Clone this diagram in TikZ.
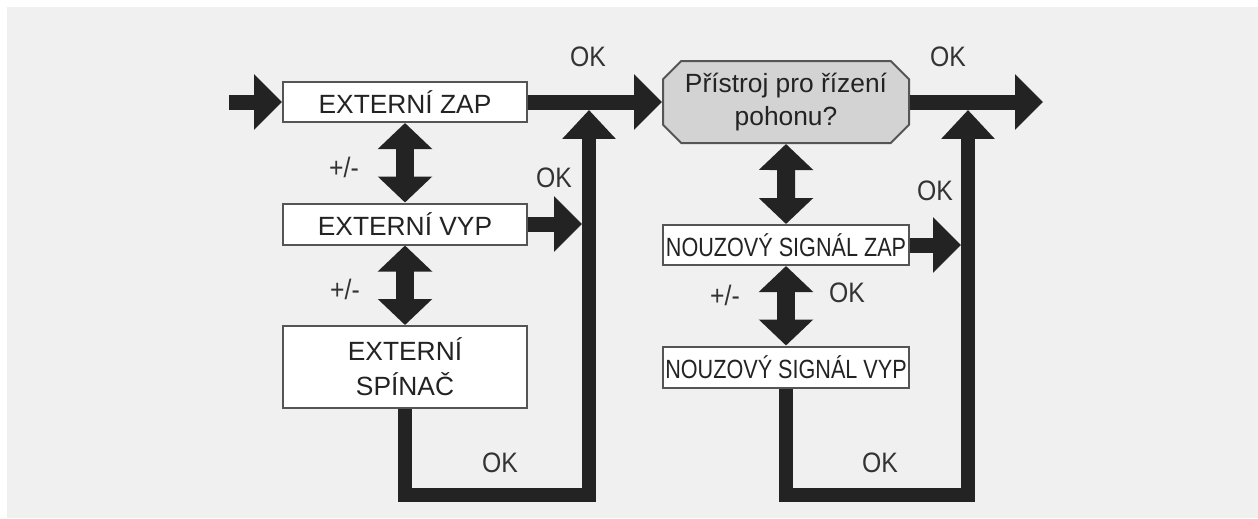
\documentclass[tikz,border=0pt]{standalone}
\usepackage{fontspec}
\setmainfont{Liberation Sans}
\newfontfamily\narrowfont[FakeStretch=0.82]{Liberation Sans}
\newfontfamily\okfont[FakeStretch=0.88]{Liberation Sans}
\usetikzlibrary{arrows.meta,shapes.misc}
\definecolor{bggrey}{HTML}{F0F0F0}
\definecolor{flowblack}{HTML}{232323}
\definecolor{boxgrey}{HTML}{D3D3D3}
\definecolor{rimgrey}{HTML}{555555}
\definecolor{okgrey}{HTML}{333333}
\def\px{0.02cm}
\tikzset{
	box/.style={draw=rimgrey, line width=2*\px, fill=white, inner sep=0pt, text=flowblack,
		minimum width=244*\px, align=center, font=\fontsize{15}{20}\selectfont},
	signalbox/.style={box, minimum width=246*\px, font=\narrowfont\fontsize{15}{18}\selectfont},
	flowarrow/.style={draw=flowblack, line width=15*\px, -{Triangle[length=0.56cm, width=1.08cm]}},
	backline/.style={draw=flowblack, line width=14*\px, -{Triangle[length=0.58cm, width=1.04cm]}},
	pairarrow/.style={draw=flowblack, line width=18*\px, {Triangle[length=0.52cm, width=1.06cm]}-{Triangle[length=0.52cm, width=1.06cm]}},
	oklabel/.style={text=okgrey, inner sep=0pt, font=\okfont\fontsize{16}{16}\selectfont}
}
\begin{document}
\begin{tikzpicture}[x=0.02cm, y=-0.02cm, line join=miter]
	\fill[white] (0,0) rectangle (1258,518);
	\fill[bggrey] (7,7) rectangle (1258,518);
	\useasboundingbox (0,0) rectangle (1258,518);
	\node[box, minimum height=40*\px] (extzap) at (405,102) {EXTERNÍ ZAP};
	\node[box, minimum height=41*\px] (extvyp) at (405,224) {EXTERNÍ VYP};
	\node[box, minimum height=82*\px] (extsw) at (405,367) {EXTERNÍ\\SPÍNAČ};
	\node[box, chamfered rectangle, chamfered rectangle xsep=12*\px, fill=boxgrey,
		minimum width=246*\px, minimum height=82*\px, font=\fontsize{15}{19}\selectfont] (ridici) at (786,102) {Přístroj pro řízení\\pohonu?};
	\node[signalbox, minimum height=40*\px] (nzap) at (786,245) {NOUZOVÝ SIGNÁL ZAP};
	\node[signalbox, minimum height=41*\px] (nvyp) at (786,367) {NOUZOVÝ SIGNÁL VYP};
	\path
	(229,102) coordinate (start)
	(1043,102) coordinate (finish)
	(589,110) coordinate (joinl)
	(968,110) coordinate (joinr)
	(589,495) coordinate (cornl)
	(968,495) coordinate (cornr)
	(582,224) coordinate (hitl)
	(961,245) coordinate (hitr)
	;
	\draw[flowarrow] (start) -- (extzap);
	\draw[flowarrow] (extzap) -- (ridici.west);
	\draw[flowarrow] (ridici.east) -- (finish);
	\draw[flowarrow] (extvyp.east) -- (hitl);
	\draw[flowarrow] (nzap.east) -- (hitr);
	\draw[backline] (extsw.south) |- (cornl) -- (joinl);
	\draw[backline] (nvyp.south) |- (cornr) -- (joinr);
	\draw[pairarrow] (extzap) -- (extvyp);
	\draw[pairarrow] (extvyp) -- (extsw);
	\draw[pairarrow] (ridici) -- (nzap);
	\draw[pairarrow] (nzap) -- (nvyp);
	\node[oklabel] (ok1) at (588,57) {OK};
	\node[oklabel] (ok2) at (948,57) {OK};
	\node[oklabel] (ok3) at (554,178) {OK};
	\node[oklabel] (ok4) at (935,191) {OK};
	\node[oklabel] (ok5) at (847,293) {OK};
	\node[oklabel] (ok6) at (500,463) {OK};
	\node[oklabel] (ok7) at (880,463) {OK};
	\node[oklabel] (pm1) at (344,167) {+/-};
	\node[oklabel] (pm2) at (345,289) {+/-};
	\node[oklabel] (pm3) at (725,295) {+/-};
\end{tikzpicture}
\end{document}
